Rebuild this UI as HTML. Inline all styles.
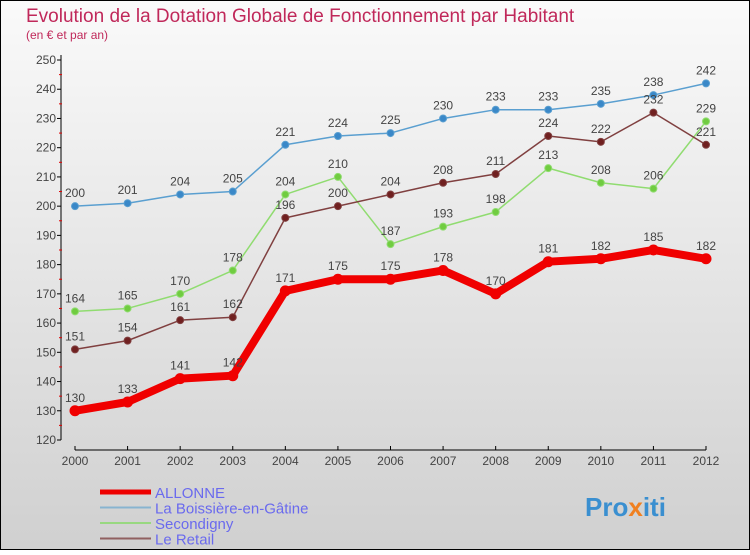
<!DOCTYPE html>
<html><head><meta charset="utf-8"><style>
html,body{margin:0;padding:0}
body{width:750px;height:550px;overflow:hidden;font-family:"Liberation Sans",sans-serif}
</style></head><body>
<svg width="750" height="550" xmlns="http://www.w3.org/2000/svg">
<defs><linearGradient id="bg" x1="0" y1="0" x2="0" y2="1"><stop offset="0" stop-color="#fafafa"/><stop offset="1" stop-color="#d0d0d0"/></linearGradient></defs>
<rect x="0.5" y="0.5" width="749" height="549" fill="url(#bg)" stroke="#000"/>
<text x="26" y="22" font-size="19" fill="#c0285a">Evolution de la Dotation Globale de Fonctionnement par Habitant</text>
<text x="26" y="39" font-size="12" fill="#c0285a">(en € et par an)</text>
<g id="axes"></g>
<g id="series"></g>
<g id="legend"></g>
<text x="585" y="516" font-size="26" font-weight="bold" fill="#3a8fd0">Pro<tspan fill="#f08020">x</tspan>iti</text>
</svg>
<script>
const years=["2000","2001","2002","2003","2004","2005","2006","2007","2008","2009","2010","2011","2012"];
const allonne=[130,133,141,142,171,175,175,178,170,181,182,185,182];
const boissiere=[200,201,204,205,221,224,225,230,233,233,235,238,242];
const secondigny=[164,165,170,178,204,210,187,193,198,213,208,206,229];
const retail=[151,154,161,162,196,200,204,208,211,224,222,232,221];
const yTicks=[120,130,140,150,160,170,180,190,200,210,220,230,240,250];
const NS="http://www.w3.org/2000/svg";
const xS=i=>75+i*(706-75)/12;
const yS=v=>440-(v-120)*380/130;
function mk(tag,attrs,parent){const e=document.createElementNS(NS,tag);for(const k in attrs)e.setAttribute(k,attrs[k]);parent.appendChild(e);return e;}
const ax=document.getElementById('axes');
let l=mk('line',{x1:61,y1:55,x2:61,y2:440,stroke:'#000'},ax);


l=mk('line',{x1:75,y1:450,x2:706,y2:450,stroke:'#000'},ax);


yTicks.forEach(v=>{
 const y=yS(v);
 mk('line',{x1:57,y1:y,x2:61,y2:y,stroke:'#000'},ax);
 if(v<250){const m=mk('line',{x1:59,y1:y-380/26,x2:62,y2:y-380/26,stroke:'#e00000'},ax);}
 const t=mk('text',{x:56,y:y+4,'font-size':12,'text-anchor':'end',fill:'#444'},ax);
 t.textContent=v;
 
 
});
years.forEach((yr,i)=>{
 const x=xS(i);
 mk('line',{x1:x,y1:446,x2:x,y2:450,stroke:'#000'},ax);
 const t=mk('text',{x:x,y:465,'font-size':12,'text-anchor':'middle',fill:'#444'},ax);
 t.textContent=yr;
 
 
});
const sg=document.getElementById('series');
function draw(data,color,dot,w,r,name){
 const g=mk('g',{},sg);
 
 
 const p=mk('polyline',{points:data.map((v,i)=>xS(i)+','+yS(v)).join(' '),fill:'none',stroke:color,'stroke-width':w,'stroke-linejoin':'round'},g);
 
 
 data.forEach((v,i)=>{
  const c=mk('circle',{cx:xS(i),cy:yS(v),r:r,fill:dot,stroke:color,'stroke-width':1},g);
  
  
  const t=mk('text',{x:xS(i),y:yS(v)-9,'font-size':12,'text-anchor':'middle',fill:'#444'},g);
  t.textContent=v;
  
  
 });
}
draw(boissiere,'#5a9fd0','#3a88c8',1.5,3.5,'boissiere');
draw(secondigny,'#90dc70','#70cc40',1.5,3.5,'secondigny');
draw(retail,'#804040','#702020',1.5,3.5,'retail');
draw(allonne,'#f00000','#f00000',8,5,'allonne');
const lg=document.getElementById('legend');
const items=[["ALLONNE","#ee0000",5],["La Boissière-en-Gâtine","#88b4d0",2],["Secondigny","#98d880",2],["Le Retail","#906060",2]];
items.forEach((it,i)=>{
 const y=492+i*15.5;
 const g=mk('g',{},lg);
 
 
 mk('line',{x1:100,y1:y,x2:151,y2:y,stroke:it[1],'stroke-width':it[2]},g);
 const t=mk('text',{x:155,y:y+6,'font-size':15,fill:'#6a6aee'},g);
 t.textContent=it[0];
});
</script>
</body></html>
